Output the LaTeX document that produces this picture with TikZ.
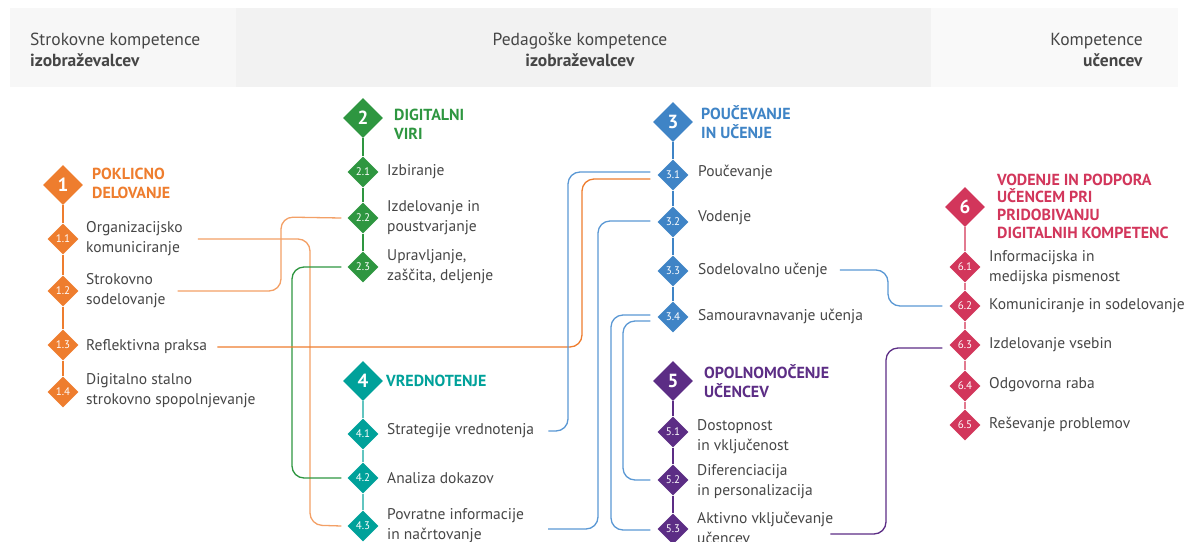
\documentclass[tikz,border=0pt]{standalone}
\usepackage{fontspec}
\setmainfont{PT Sans}
\usetikzlibrary{shapes.geometric,calc}
\definecolor{corange}{HTML}{EE7D2E}
\definecolor{corangel}{HTML}{F3A066}
\definecolor{cgreen}{HTML}{2E9640}
\definecolor{cteal}{HTML}{00A19A}
\definecolor{ctealL}{HTML}{62C5C0}
\definecolor{cblue}{HTML}{3F84C6}
\definecolor{cbluel}{HTML}{5B98D4}
\definecolor{cpurple}{HTML}{5C2D85}
\definecolor{ccrimson}{HTML}{D2365B}
\definecolor{ccrimsonl}{HTML}{E27A90}
\definecolor{ctext}{HTML}{464646}
\definecolor{bandA}{HTML}{F7F7F7}
\definecolor{bandB}{HTML}{F2F2F2}
\definecolor{bandC}{HTML}{F9F9F9}
\tikzset{
  bigd/.style={diamond, aspect=1, minimum width=40, minimum height=40, inner sep=0, fill=#1, text=white, font=\fontsize{19}{19}\selectfont\bfseries},
  smalld/.style={diamond, aspect=1, minimum width=31, minimum height=31, inner sep=0, fill=#1, text=white, font=\fontsize{11}{11}\selectfont},
  item/.style={anchor=west, text=ctext, font=\fontsize{15.5}{20}\selectfont, align=left, inner sep=0},
  head/.style={anchor=west, text=#1, font=\fontsize{16}{19}\selectfont\bfseries, align=left, inner sep=0},
  band/.style={fill=#1, draw=none},
  htext/.style={text=ctext, font=\fontsize{17.5}{21}\selectfont, inner sep=0},
  spine/.style={draw=#1, line width=1.8},
  conn/.style={draw=#1, line width=1.3, rounded corners=12},
}
\begin{document}
\begin{tikzpicture}[x=1pt,y=-1pt]
\useasboundingbox (0,0) rectangle (1186,541);
% header bands
\path[band=bandA] (10,8) rectangle (236,87);
\path[band=bandB] (236,8) rectangle (931,87);
\path[band=bandC] (931,8) rectangle (1178,87);
\node[htext, anchor=west, align=left] (h1) at (30,50) {Strokovne kompetence\\\textbf{izobraževalcev}};
\node[htext, align=center] (h2) at (580,50) {Pedagoške kompetence\\\textbf{izobraževalcev}};
\node[htext, anchor=east, align=right] (h3) at (1143,50) {Kompetence\\\textbf{učencev}};

% column 1
\node[bigd=corange] (d1) at (63,185) {1};
\node[head=corange] (l1) at (92,183) {POKLICNO\\DELOVANJE};
\node[smalld=corange] (d11) at (63,239) {1.1};
\node[smalld=corange] (d12) at (63,291) {1.2};
\node[smalld=corange] (d13) at (63,345) {1.3};
\node[smalld=corange] (d14) at (63,392) {1.4};
\node[item] (t11) at (86,239) {Organizacijsko\\komuniciranje};
\node[item] (t12) at (86,291) {Strokovno\\sodelovanje};
\node[item] (t13) at (86,347) {Reflektivna praksa};
\node[item] (t14) at (86,391) {Digitalno stalno\\strokovno spopolnjevanje};
\draw[spine=corange] (d1.south) -- (d11.north) (d11.south) -- (d12.north) (d12.south) -- (d13.north) (d13.south) -- (d14.north);

% column 2
\node[bigd=cgreen] (d2) at (363,118) {2};
\node[head=cgreen] (l2) at (394,124) {DIGITALNI\\VIRI};
\node[smalld=cgreen] (d21) at (363,172) {2.1};
\node[smalld=cgreen] (d22) at (363,218) {2.2};
\node[smalld=cgreen] (d23) at (363,267) {2.3};
\node[item] (t21) at (387,172) {Izbiranje};
\node[item] (t22) at (387,218) {Izdelovanje in\\poustvarjanje};
\node[item] (t23) at (387,267) {Upravljanje,\\zaščita, deljenje};
\draw[spine=cgreen] (d2.south) -- (d21.north) (d21.south) -- (d22.north) (d22.south) -- (d23.north);

% column 4
\node[bigd=cteal] (d4) at (363,381) {4};
\node[head=cteal] (l4) at (386,381) {VREDNOTENJE};
\node[smalld=cteal] (d41) at (363,434) {4.1};
\node[smalld=cteal] (d42) at (363,478) {4.2};
\node[smalld=cteal] (d43) at (363,526) {4.3};
\node[item] (t41) at (387,431) {Strategije vrednotenja};
\node[item] (t42) at (387,478) {Analiza dokazov};
\node[item] (t43) at (387,526) {Povratne informacije\\in načrtovanje};
\draw[spine=ctealL] (d4.south) -- (d41.north) (d41.south) -- (d42.north) (d42.south) -- (d43.north);

% column 3
\node[bigd=cblue] (d3) at (673,122) {3};
\node[head=cblue] (l3) at (701,122) {POUČEVANJE\\IN UČENJE};
\node[smalld=cblue] (d31) at (673,175) {3.1};
\node[smalld=cblue] (d32) at (673,222) {3.2};
\node[smalld=cblue] (d33) at (673,271) {3.3};
\node[smalld=cblue] (d34) at (673,317) {3.4};
\node[item] (t31) at (698,172) {Poučevanje};
\node[item] (t32) at (698,218) {Vodenje};
\node[item] (t33) at (698,270) {Sodelovalno učenje};
\node[item] (t34) at (698,316) {Samouravnavanje učenja};
\draw[spine=cblue] (d3.south) -- (d31.north) (d31.south) -- (d32.north) (d32.south) -- (d33.north) (d33.south) -- (d34.north);

% column 5
\node[bigd=cpurple] (d5) at (673,381) {5};
\node[head=cpurple] (l5) at (704,381) {OPOLNOMOČENJE\\UČENCEV};
\node[smalld=cpurple] (d51) at (673,432) {5.1};
\node[smalld=cpurple] (d52) at (673,480) {5.2};
\node[smalld=cpurple] (d53) at (673,529) {5.3};
\node[item] (t51) at (697,437) {Dostopnost\\in vključenost};
\node[item] (t52) at (697,482) {Diferenciacija\\in personalizacija};
\node[item] (t53) at (697,528) {Aktivno vključevanje\\učencev};
\draw[spine=cpurple] (d5.south) -- (d51.north) (d51.south) -- (d52.north) (d52.south) -- (d53.north);

% column 6
\node[bigd=ccrimson] (d6) at (965,207) {6};
\node[head=ccrimson, font=\fontsize{16}{17.7}\selectfont\bfseries] (l6) at (997,206) {VODENJE IN PODPORA\\UČENCEM PRI\\PRIDOBIVANJU\\DIGITALNIH KOMPETENC};
\node[smalld=ccrimson] (d61) at (965,267) {6.1};
\node[smalld=ccrimson] (d62) at (965,306) {6.2};
\node[smalld=ccrimson] (d63) at (965,345) {6.3};
\node[smalld=ccrimson] (d64) at (965,386) {6.4};
\node[smalld=ccrimson] (d65) at (965,425) {6.5};
\node[item] (t61) at (989,268) {Informacijska in\\medijska pismenost};
\node[item] (t62) at (989,306) {Komuniciranje in sodelovanje};
\node[item] (t63) at (989,345) {Izdelovanje vsebin};
\node[item] (t64) at (989,385) {Odgovorna raba};
\node[item] (t65) at (989,424) {Reševanje problemov};
\draw[spine=ccrimsonl] (d6.south) -- (d61.north) (d61.south) -- (d62.north) (d62.south) -- (d63.north) (d63.south) -- (d64.north) (d64.south) -- (d65.north);

% connectors
\draw[conn=corangel] ([xshift=15]t11.east) -- (310,239) -- (310,525) -- ([xshift=-6]d43.west);
\draw[conn=corangel] ([xshift=12]t12.east) -- (281,291) -- (281,217) -- ([xshift=-6]d22.west);
\draw[conn=cgreen] ([xshift=-6]d23.west) -- (292,267) -- (292,478) -- ([xshift=-6]d42.west);
\draw[conn=corange] ([xshift=10]t13.east) -- (582,347) -- (582,179) -- ([xshift=-7,yshift=-4]d31.west);
\draw[conn=cbluel] ([xshift=-7,yshift=3]d31.west) -- (568,172) -- (568,431) -- ([xshift=14]t41.east);
\draw[conn=cbluel] ([xshift=-7,yshift=1]d32.west) -- (598,221) -- (598,529) -- ([xshift=24,yshift=-3]t43.east);
\draw[conn=cbluel] ([xshift=12]t33.east) -- (888,270) -- (888,306) -- ([xshift=-7]d62.west);
\draw[conn=cbluel] ([xshift=-7,yshift=2]d34.west) -- (611,315) -- (611,530) -- ([xshift=-7,yshift=-1]d53.west);
\draw[conn=cbluel] ([xshift=-7,yshift=-4]d34.west) -- (623,321) -- (623,480) -- ([xshift=-7]d52.west);
\draw[conn=cpurple] ([xshift=-3,yshift=-6]t53.east) -- (886,534) -- (886,348) -- ([xshift=-7,yshift=-3]d63.west);
\end{tikzpicture}
\end{document}
